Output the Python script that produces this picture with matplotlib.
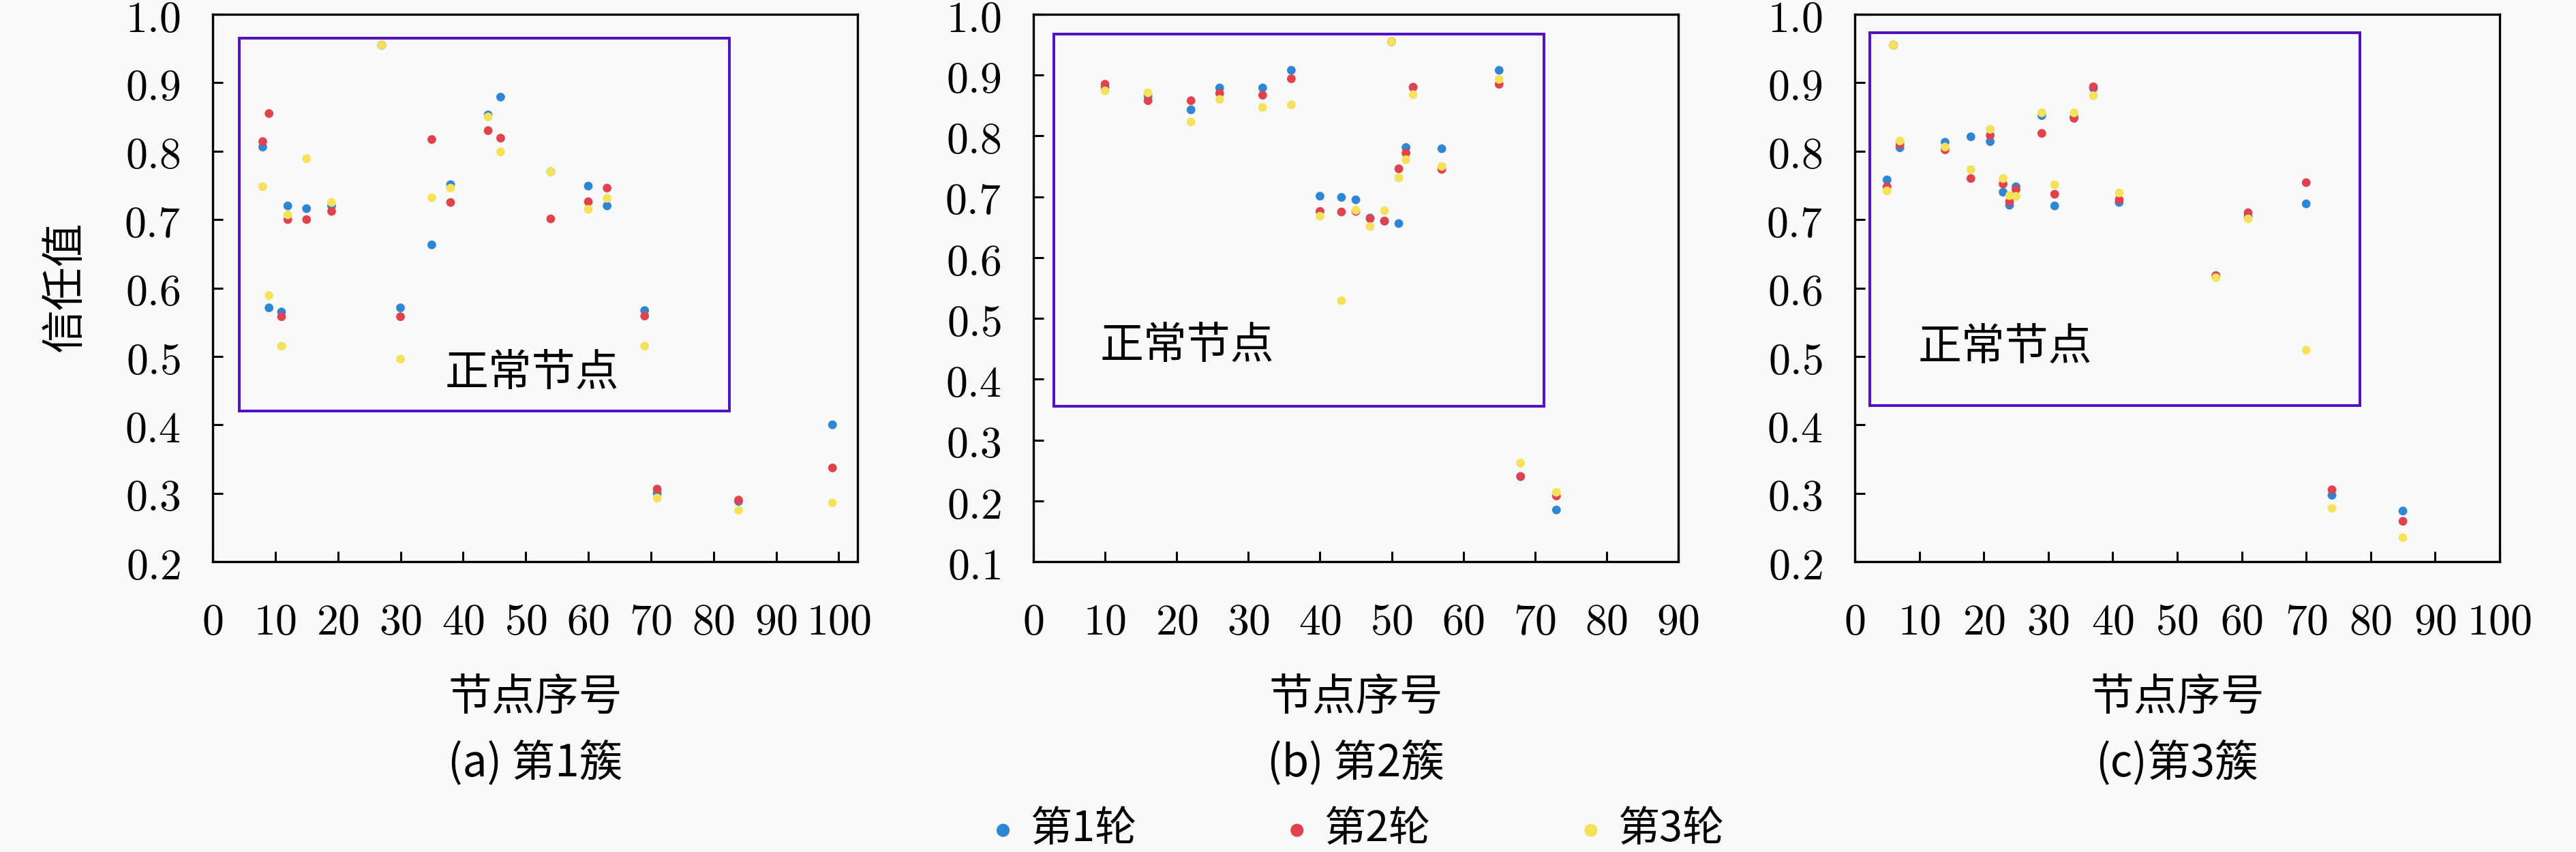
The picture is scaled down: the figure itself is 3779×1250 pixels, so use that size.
import matplotlib
matplotlib.use("Agg")
import matplotlib.pyplot as plt
from matplotlib.patches import Rectangle
from matplotlib.font_manager import FontProperties
from matplotlib.ticker import FuncFormatter, FixedLocator

plt.rcParams['font.family'] = ['Noto Sans CJK SC', 'DejaVu Sans']
plt.rcParams['mathtext.fontset'] = 'cm'

# ---------------- data ----------------
series_labels = ['第1轮', '第2轮', '第3轮']
colors = ['#2f86d4', '#e0434e', '#f5e25a']

c1_x = [8, 9, 11, 12, 15, 19, 27, 30, 35, 38, 44, 46, 54, 60, 63, 69, 71, 84, 99]
c1_r1 = [0.806, 0.571, 0.565, 0.720, 0.716, 0.720, 0.955, 0.571, 0.663, 0.751, 0.853, 0.879, 0.770, 0.749, 0.720, 0.567, 0.300, 0.288, 0.400]
c1_r2 = [0.814, 0.855, 0.558, 0.700, 0.700, 0.712, 0.955, 0.558, 0.817, 0.725, 0.830, 0.819, 0.701, 0.726, 0.746, 0.559, 0.306, 0.290, 0.337]
c1_r3 = [0.748, 0.589, 0.515, 0.707, 0.789, 0.725, 0.955, 0.496, 0.732, 0.746, 0.850, 0.799, 0.770, 0.715, 0.731, 0.515, 0.293, 0.275, 0.286]

c2_x = [10, 16, 22, 26, 32, 36, 40, 43, 45, 47, 49, 50, 51, 52, 53, 57, 65, 68, 73]
c2_r1 = [0.880, 0.865, 0.843, 0.879, 0.879, 0.908, 0.701, 0.699, 0.695, 0.665, 0.660, 0.955, 0.656, 0.781, 0.880, 0.779, 0.908, 0.240, 0.185]
c2_r2 = [0.885, 0.858, 0.858, 0.870, 0.867, 0.894, 0.676, 0.675, 0.676, 0.664, 0.660, 0.955, 0.746, 0.772, 0.880, 0.745, 0.885, 0.240, 0.208]
c2_r3 = [0.874, 0.871, 0.823, 0.860, 0.847, 0.851, 0.668, 0.529, 0.678, 0.651, 0.677, 0.955, 0.731, 0.761, 0.868, 0.750, 0.893, 0.262, 0.214]

c3_x = [5, 6, 7, 14, 18, 21, 23, 24, 25, 29, 31, 34, 37, 41, 56, 61, 70, 74, 85]
c3_r1 = [0.758, 0.955, 0.805, 0.813, 0.821, 0.814, 0.740, 0.721, 0.748, 0.852, 0.720, 0.850, 0.892, 0.725, 0.618, 0.705, 0.723, 0.297, 0.274]
c3_r2 = [0.748, 0.955, 0.810, 0.802, 0.760, 0.823, 0.752, 0.726, 0.744, 0.826, 0.737, 0.848, 0.894, 0.729, 0.618, 0.710, 0.754, 0.305, 0.259]
c3_r3 = [0.742, 0.955, 0.815, 0.806, 0.773, 0.832, 0.760, 0.735, 0.734, 0.856, 0.751, 0.856, 0.881, 0.739, 0.615, 0.701, 0.509, 0.278, 0.235]

subtitles = ['(a) 第1簇', '(b) 第2簇', '(c)第3簇']
xlabel_text = '节点序号'
ylabel_text = '信任值'
box_text = '正常节点'

xticks_1 = [0, 10, 20, 30, 40, 50, 60, 70, 80, 90, 100]
xticks_2 = [0, 10, 20, 30, 40, 50, 60, 70, 80, 90]
xticks_3 = [0, 10, 20, 30, 40, 50, 60, 70, 80, 90, 100]
yticks_1 = [0.2, 0.3, 0.4, 0.5, 0.6, 0.7, 0.8, 0.9, 1.0]
yticks_2 = [0.1, 0.2, 0.3, 0.4, 0.5, 0.6, 0.7, 0.8, 0.9, 1.0]
yticks_3 = [0.2, 0.3, 0.4, 0.5, 0.6, 0.7, 0.8, 0.9, 1.0]

# ---------------- layout ----------------
W, H = 3780, 1250
fig = plt.figure(figsize=(W / 100, H / 100), dpi=100)
bg = '#f9f9f9'
fig.patch.set_facecolor(bg)

ax_w = 946 / W
ax_b = 1 - 824 / H
ax_h = 803 / H
lefts = [312 / W, 1516 / W, 2721 / W]

panels = [
    dict(x=c1_x, ys=[c1_r1, c1_r2, c1_r3], xlim=(0, 103), ylim=(0.2, 1.0),
         xt=xticks_1, yt=yticks_1, box=(4.3, 0.420, 82.5, 0.965), tpos=(51.0, 0.475)),
    dict(x=c2_x, ys=[c2_r1, c2_r2, c2_r3], xlim=(0, 90), ylim=(0.1, 1.0),
         xt=xticks_2, yt=yticks_2, box=(2.9, 0.356, 71.3, 0.968), tpos=(21.4, 0.455)),
    dict(x=c3_x, ys=[c3_r1, c3_r2, c3_r3], xlim=(0, 100), ylim=(0.2, 1.0),
         xt=xticks_3, yt=yticks_3, box=(2.3, 0.428, 78.3, 0.973), tpos=(23.3, 0.513)),
]

fs = 46
cjk = ['Noto Sans CJK SC', 'DejaVu Sans']
handles = None
for i, p in enumerate(panels):
    ax = fig.add_axes([lefts[i], ax_b, ax_w, ax_h])
    ax.set_facecolor(bg)
    hs = []
    for ys, c, lab in zip(p['ys'], colors, series_labels):
        h = ax.scatter(p['x'], ys, s=85, color=c, edgecolors='none', zorder=3, label=lab)
        hs.append(h)
    if handles is None:
        handles = hs
    x0, y0, x1, y1 = p['box']
    ax.add_patch(Rectangle((x0, y0), x1 - x0, y1 - y0, fill=False,
                           edgecolor='#5212c4', linewidth=2.9, zorder=2))
    ax.text(p['tpos'][0], p['tpos'][1], box_text, fontsize=fs, family=cjk,
            ha='center', va='center', color='black', zorder=4)
    ax.set_xlim(*p['xlim'])
    ax.set_ylim(*p['ylim'])
    ax.xaxis.set_major_locator(FixedLocator(p['xt']))
    ax.yaxis.set_major_locator(FixedLocator(p['yt']))
    ax.xaxis.set_major_formatter(FuncFormatter(lambda v, pos: r'$%d$' % round(v)))
    ax.yaxis.set_major_formatter(FuncFormatter(lambda v, pos: r'$%.1f$' % v))
    ax.tick_params(axis='both', direction='in', length=11, width=2.2,
                   labelsize=fs, top=False, right=False)
    ax.tick_params(axis='x', pad=40)
    ax.tick_params(axis='y', pad=34)
    for sp in ax.spines.values():
        sp.set_linewidth(2.4)
    ax.text(0.5, -0.249, xlabel_text, transform=ax.transAxes, fontsize=fs,
            family=cjk, ha='center', va='center')
    ax.text(0.5, -0.369, subtitles[i], transform=ax.transAxes, fontsize=fs,
            family=cjk, ha='center', va='center')
    if i == 0:
        ax.text(-0.228, 0.503, ylabel_text, transform=ax.transAxes, fontsize=fs,
                family=cjk, ha='center', va='center', rotation=90)

fig.legend(handles, series_labels, loc='center',
           bbox_to_anchor=(1993 / W, 1 - 1217 / H), ncol=3, frameon=False,
           prop=FontProperties(family=cjk, size=44), markerscale=1.5,
           handlelength=0.5, handletextpad=0.4, columnspacing=3.6)

fig.savefig('out.png', dpi=100, facecolor=bg)
